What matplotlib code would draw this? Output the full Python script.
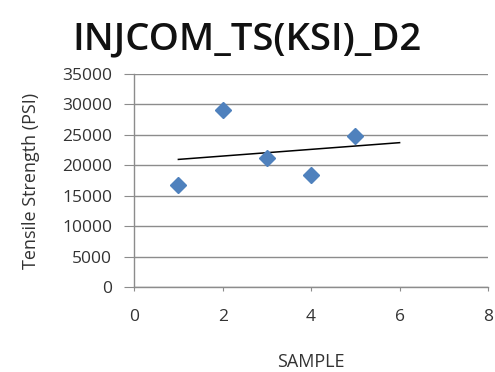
import numpy as np
import matplotlib.pyplot as plt

samples = [1, 2, 3, 4, 5]
strength = [16800, 29100, 21200, 18400, 24900]
title = "INJCOM_TS(KSI)_D2"

plt.rcParams['font.family'] = ['Open Sans', 'DejaVu Sans']

fig = plt.figure(figsize=(4.95, 3.72), dpi=100)
ax = fig.add_axes([0.271, 0.228, 0.715, 0.573])

# linear trendline, forecast forward one period
slope, icpt = np.polyfit(samples, strength, 1)
tx = np.array([samples[0], samples[-1] + 1])
ax.plot(tx, slope * tx + icpt, color='black', lw=1.1, zorder=2)

ax.plot(samples, strength, linestyle='none', marker='D', markersize=8.5,
        color='#4F81BD', markeredgecolor='#4F81BD', zorder=3)

ax.set_xlim(0, 8)
ax.set_ylim(0, 35000)
ax.set_xticks(range(0, 9, 2))
ax.set_yticks(range(0, 35001, 5000))
ax.grid(axis='y', color='#8c8c8c', lw=1.0)
ax.set_axisbelow(True)

for side in ['top', 'right']:
    ax.spines[side].set_visible(False)
for side in ['left', 'bottom']:
    ax.spines[side].set_color('#8c8c8c')
    ax.spines[side].set_linewidth(1.0)
ax.tick_params(colors='#8c8c8c', labelcolor='#333333', labelsize=12.5)
ax.tick_params(axis='x', length=3, pad=13)
ax.tick_params(axis='y', length=7, pad=9)

ax.set_xlabel("SAMPLE", fontsize=13, labelpad=20, color='#333333')
ax.set_ylabel("Tensile Strength (PSI)", fontsize=13, labelpad=16, color='#333333')

fig.text(0.499, 0.895, title, ha='center', va='center', fontsize=27.5,
         fontweight='semibold', color='#111111')

fig.savefig('out.png', dpi=100)
